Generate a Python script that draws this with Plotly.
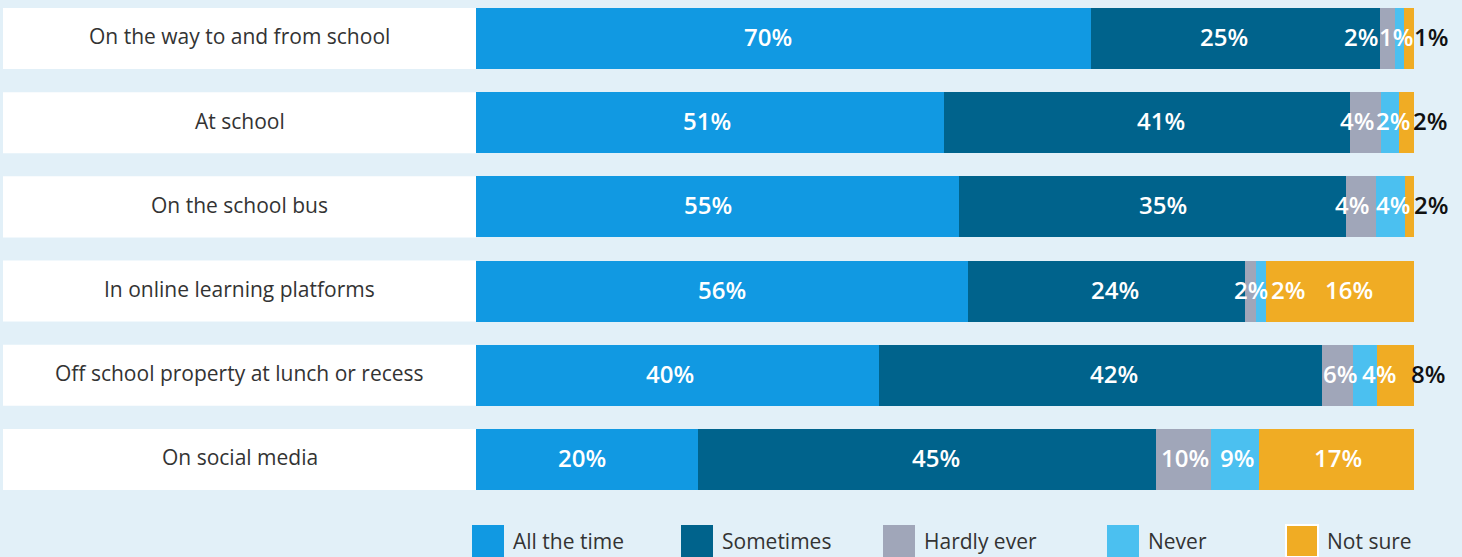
import plotly.graph_objects as go

# ---------------- data ----------------
categories = [
    "On the way to and from school",
    "At school",
    "On the school bus",
    "In online learning platforms",
    "Off school property at lunch or recess",
    "On social media",
]
series_names = ["All the time", "Sometimes", "Hardly ever", "Never", "Not sure"]

# segment lengths as drawn (share of full bar)
all_the_time = [65.6, 49.9, 51.5, 52.5, 43.0, 23.7]
sometimes = [30.8, 43.3, 41.3, 29.5, 47.2, 48.8]
hardly_ever = [1.6, 3.3, 3.2, 1.2, 3.3, 5.9]
never = [0.9, 1.9, 3.0, 1.0, 2.6, 5.1]
not_sure = [1.1, 1.6, 1.1, 15.8, 3.9, 16.5]

# printed labels
lab_all = ["70%", "51%", "55%", "56%", "40%", "20%"]
lab_some = ["25%", "41%", "35%", "24%", "42%", "45%"]
lab_hardly = ["2%", "4%", "4%", "2%", "6%", "10%"]
lab_never = ["1%", "2%", "4%", "2%", "4%", "9%"]
lab_notsure = ["1%", "2%", "2%", "16%", "8%", "17%"]

# ---------------- style ----------------
colors = ["#1199e2", "#00638c", "#a0a6b9", "#4bc0f0", "#f0ac24"]
BG = "#e2f0f8"
W, H = 1462, 557
ML, MR, MT, MB = 476, 48, 0, 52
PW, PH = W - ML - MR, H - MT - MB
BAR_W = 0.725

# label pixel shifts relative to segment centres
shift_all = [-16, -3, -10, 0, -8, -5]
shift_some = [-12, 14, 10, 8, 13, 9]
shift_hardly = [-27, -9, -9, 0, 2, 1]
shift_never = [-3, 3, 2, 27, 14, 2]
shift_notsure = [22, 23, 21, 9, 32, 1]
dark_notsure = [True, True, True, False, True, False]

values = [all_the_time, sometimes, hardly_ever, never, not_sure]
labels = [lab_all, lab_some, lab_hardly, lab_never, lab_notsure]
shifts = [shift_all, shift_some, shift_hardly, shift_never, shift_notsure]

fig = go.Figure()
for name, vals, col in zip(series_names, values, colors):
    fig.add_trace(go.Bar(
        y=categories, x=vals, name=name, orientation="h",
        marker=dict(color=col, line=dict(width=0)),
        width=BAR_W, showlegend=False, hoverinfo="skip",
    ))

shapes = []
annotations = []
label_font = dict(family="Open Sans", size=24, color="white", weight=600)

for i, cat in enumerate(categories):
    # white label box
    shapes.append(dict(
        type="rect", xref="paper", yref="y",
        x0=-(ML - 3) / PW, x1=0, y0=i - BAR_W / 2, y1=i + BAR_W / 2,
        fillcolor="white", line=dict(width=0), layer="below",
    ))
    annotations.append(dict(
        xref="paper", yref="y", x=-(ML - 3) / 2 / PW, y=cat,
        text=cat, showarrow=False, xanchor="center", yanchor="middle",
        font=dict(family="Open Sans", size=21, color="#333333"), yshift=2,
    ))
    start = 0.0
    for s in range(5):
        v = values[s][i]
        center = start + v / 2
        start += v
        col = "white"
        if s == 4 and dark_notsure[i]:
            col = "#111111"
        f = dict(label_font)
        f["color"] = col
        annotations.append(dict(
            xref="x", yref="y", x=center, y=cat, text=labels[s][i],
            showarrow=False, xanchor="center", yanchor="middle",
            xshift=shifts[s][i], yshift=2, font=f,
        ))

# legend (drawn manually: large square keys)
legend_x = [472, 681, 883, 1107, 1286]
key = 32
for name, col, lx in zip(series_names, colors, legend_x):
    x0 = (lx - ML) / PW
    x1 = (lx + key - ML) / PW
    y0 = -(525 - PH) / PH
    y1 = -(557 - PH) / PH
    line = dict(width=0)
    if name == "Not sure":
        line = dict(width=2, color="white")
    shapes.append(dict(type="rect", xref="paper", yref="paper",
                       x0=x0, x1=x1, y0=y1, y1=y0,
                       fillcolor=col, line=line))
    annotations.append(dict(
        xref="paper", yref="paper", x=(lx + key + 7 - ML) / PW,
        y=-(541 - PH) / PH, text=name, showarrow=False,
        xanchor="left", yanchor="middle",
        font=dict(family="Open Sans", size=21, color="#333333"),
    ))

fig.update_layout(
    width=W, height=H,
    barmode="stack",
    paper_bgcolor=BG, plot_bgcolor=BG,
    margin=dict(l=ML, r=MR, t=MT, b=MB),
    xaxis=dict(range=[0, 100], visible=False, fixedrange=True),
    yaxis=dict(
        categoryorder="array", categoryarray=categories,
        range=[-0.457 + PH / 84.2, -0.457], visible=False, fixedrange=True,
    ),
    shapes=shapes, annotations=annotations,
    showlegend=False,
)

fig.write_html(
    "out.html",
    config={"displayModeBar": False},
    post_script=(
        "document.body.style.margin='0';"
        "document.body.style.padding='0';"
        "document.body.style.overflow='hidden';"
        "document.body.style.background='" + BG + "';"
    ),
)
